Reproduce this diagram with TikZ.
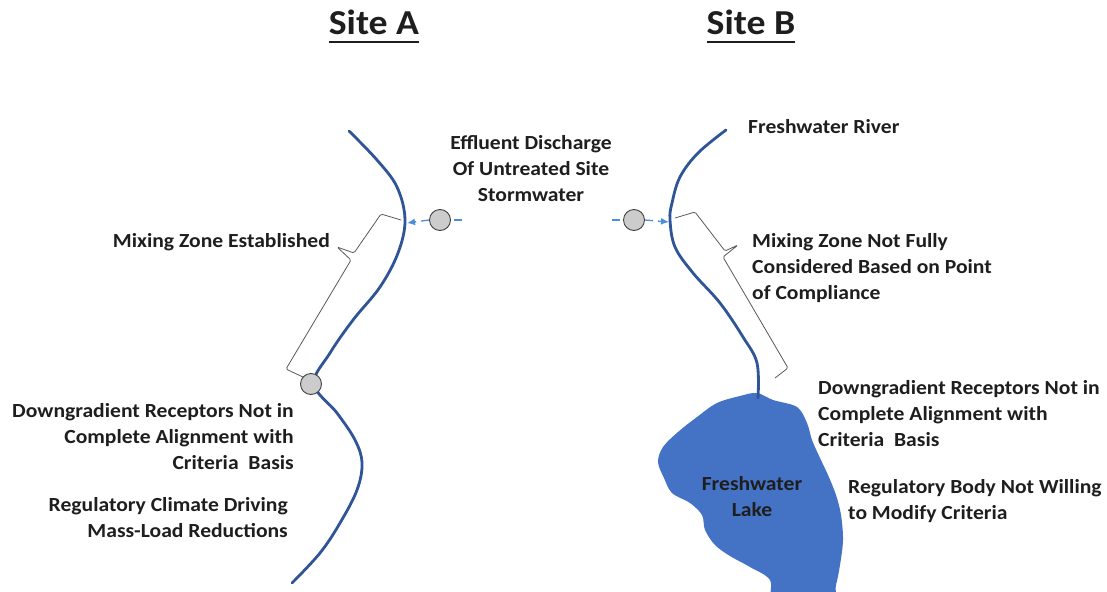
\documentclass[tikz,border=0pt]{standalone}
\usepackage{fontspec}
\setmainfont{Carlito}[FakeStretch=1.08]
\usetikzlibrary{arrows.meta}
\definecolor{riverblue}{HTML}{2F5597}
\definecolor{lakeblue}{HTML}{4472C4}
\definecolor{flowblue}{HTML}{4A8FDB}
\definecolor{inkgray}{HTML}{1E1E1E}
\definecolor{bracegray}{HTML}{595959}

\begin{document}
\begin{tikzpicture}[x=1pt, y=-1pt,
    label/.style={text=inkgray, font=\fontsize{20}{26}\selectfont\bfseries, inner sep=0pt},
    title/.style={text=inkgray, font=\fontsize{35}{40}\selectfont\bfseries, inner sep=0pt},
    river/.style={riverblue, line width=2.8pt, line cap=round},
    flow/.style={flowblue, line width=1.3pt, dash pattern=on 8pt off 5pt},
    outfall/.style={circle, draw=black!75, fill=black!20, line width=0.9pt, minimum size=21pt, inner sep=0pt},
    zone/.style={bracegray, line width=0.8pt, rounded corners=1.5pt}]
  \clip (0,0) rectangle (1107,591);
  \fill[white] (0,0) rectangle (1107,591);

  \coordinate (startA) at (462,220);
  \coordinate (tipA) at (407,223);
  \coordinate (startB) at (612,220);
  \coordinate (tipB) at (669,222);

  % titles
  \node[title, anchor=base] (siteA) at (374,35) {Site A};
  \node[title, anchor=base] (siteB) at (751,35) {Site B};
  \draw[inkgray, line width=2.5pt] ([yshift=-7pt]siteA.base west) -- ([yshift=-7pt]siteA.base east);
  \draw[inkgray, line width=2.5pt] ([yshift=-7pt]siteB.base west) -- ([yshift=-7pt]siteB.base east);

  % Site A
  \draw[river] plot[smooth, tension=0.6] coordinates {(349,131) (377,160) (397,187) (405,220) (398,253) (380,287) (353,320) (330,353) (314,384) (337,413) (355,440) (362,463) (357,490) (340,523) (320,553) (292,583)};
  \draw[zone] (305,378) -- (286,369) -- (351,260) -- (337,247) -- (354,253) -- (381,214) -- (401,220);
  \node[outfall] (mixA) at (311,384) {};
  \node[outfall] (outA) at (440,220) {};
  \draw[flow] (startA) -- (outA.east);
  \draw[flow, -{Latex[length=8pt, width=7pt]}] (outA.west) -- (tipA);

  \node[label, align=center] (effluent) at (531,169) {Effluent Discharge\\Of Untreated Site\\Stormwater};
  \node[label, anchor=east] (mixingA) at (330,242) {Mixing Zone Established};
  \node[label, anchor=east, align=right] (receptA) at (294,437) {Downgradient Receptors Not in\\Complete Alignment with\\Criteria\ \ Basis};
  \node[label, anchor=east, align=right] (climate) at (288,518) {Regulatory Climate Driving\\Mass-Load Reductions};

  % Site B
  \fill[lakeblue] plot[smooth cycle, tension=0.55] coordinates {(757,393) (773,400) (797,407) (807,423) (812,440) (820,458) (828,475) (836,495) (841,515) (843,540) (840,565) (836,585) (830,605) (775,605) (770,580) (750,567) (730,556) (715,545) (705,530) (702,515) (690,503) (672,493) (664,478) (658,462) (663,447) (678,432) (697,417) (717,403) (740,396)};
  \draw[river] plot[smooth, tension=0.6] coordinates {(726,130) (698,153) (680,177) (672,203) (670,220) (675,247) (693,273) (720,303) (743,337) (757,363) (758,398)};
  \draw[zone] (675,218) -- (695,212) -- (725,251) -- (738,245) -- (723,257) -- (788,368) -- (775,378);
  \node[outfall] (outB) at (634,220) {};
  \draw[flow] (startB) -- (outB.west);
  \draw[flow, -{Latex[length=8pt, width=7pt]}] (outB.east) -- (tipB);

  \node[label, anchor=west] (river) at (748,127) {Freshwater River};
  \node[label, anchor=west, align=left] (mixingB) at (752,268) {Mixing Zone Not Fully\\Considered Based on Point\\of Compliance};
  \node[label, anchor=west, align=left] (receptB) at (818,414) {Downgradient Receptors Not in\\Complete Alignment with\\Criteria\ \ Basis};
  \node[label, anchor=west, align=left] (body) at (848,501) {Regulatory Body Not Willing\\to Modify Criteria};
  \node[label, align=center] (lake) at (752,497) {Freshwater\\Lake};
\end{tikzpicture}
\end{document}
